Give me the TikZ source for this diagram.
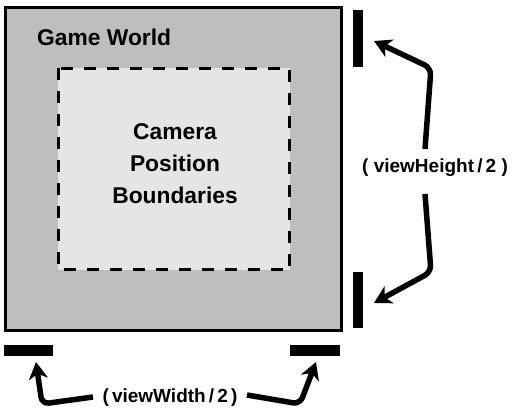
\documentclass[tikz,border=0pt]{standalone}
\usepackage{fontspec}
\setmainfont{Liberation Sans}
\usetikzlibrary{arrows.meta}
\definecolor{outerfill}{gray}{0.745}
\definecolor{innerfill}{gray}{0.9}
\tikzset{
  bigtext/.style={font=\fontsize{22.8}{32}\selectfont\bfseries, text=black, inner sep=0pt},
  lbltext/.style={font=\fontsize{19}{22}\selectfont\bfseries, text=black, inner sep=0pt},
  arr/.style={line width=5.5pt, -{Stealth[length=17pt,width=19pt,inset=5pt]}, rounded corners=7pt},
}
\begin{document}
\begin{tikzpicture}[x=1pt,y=-1pt]
\useasboundingbox (0,0) rectangle (514,411);
% outer game world
\draw[line width=3pt, fill=outerfill] (5.5,8) rectangle (341.5,330.5);
% inner camera region
\draw[line width=3pt, fill=innerfill, dash pattern=on 12pt off 11pt] (58,68.5) rectangle (289.5,270);
\node[bigtext, anchor=west] (gw) at (37,37) {Game World};
\node[bigtext, align=center] (cam) at (175,164) {Camera\\Position\\Boundaries};
% bars
\node[fill=black, inner sep=0pt, minimum width=10pt, minimum height=57pt] (tb) at (358,38.5) {};
\node[fill=black, inner sep=0pt, minimum width=10pt, minimum height=56pt] (bb) at (358,300) {};
\node[fill=black, inner sep=0pt, minimum width=49pt, minimum height=11pt] (lb) at (28.5,350.5) {};
\node[fill=black, inner sep=0pt, minimum width=50pt, minimum height=11pt] (rb) at (315,350.5) {};
% labels
\node[lbltext, anchor=west] (vh) at (362,168) {( viewHeight\,/\,2 )};
\node[lbltext] (vw) at (170,398) {(\,viewWidth\,/\,2\,)};
% connector corners
\coordinate (c1) at (431,68);
\coordinate (c2) at (431,272);
\coordinate (c3) at (42,404);
\coordinate (c4) at (300,404);
\draw[arr] (425,149) -- (c1) -- (374,41);
\draw[arr] (425,194) -- (c2) -- (374,303);
\draw[arr] (93,397) -- (c3) -- (36,362);
\draw[arr] (247,395) -- (c4) -- (316,362);
\end{tikzpicture}
\end{document}
